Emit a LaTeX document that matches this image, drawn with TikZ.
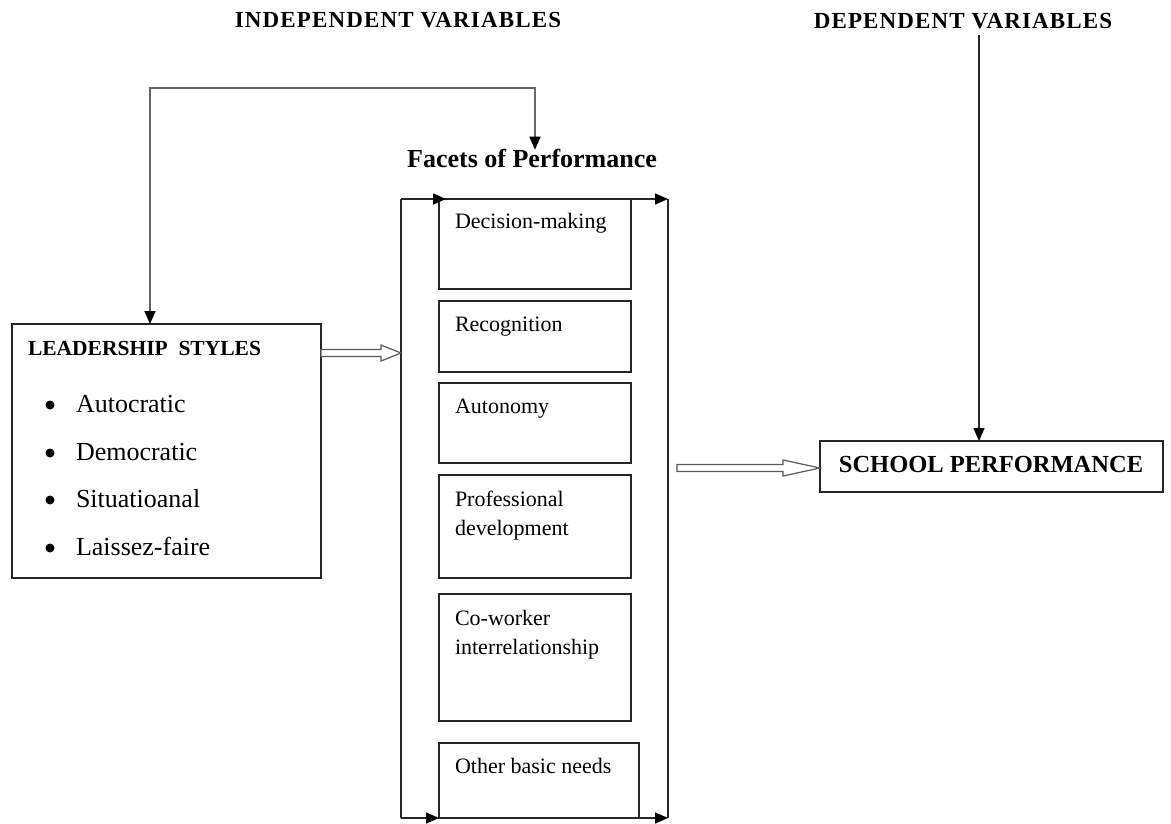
\documentclass[tikz,border=0pt]{standalone}
\usepackage{fontspec}
\setmainfont{Liberation Serif}
\usetikzlibrary{arrows.meta,calc}
\begin{document}
\begin{tikzpicture}[x=1pt,y=-1pt,
  every node/.style={inner sep=0pt,outer sep=0pt},
  boxst/.style={draw=black!85,line width=1.3pt,rectangle,anchor=north west},
  brk/.style={draw=black!85,line width=1.3pt},
  fb/.style={draw=black!60,line width=1.6pt},
  tp/.tip={Triangle[length=13pt,width=11pt,color=black]},
  tipst/.style={-tp},
  hollow/.style={draw=black!65,line width=1.2pt,fill=white},
  ttl/.style={font=\fontsize{23}{27}\selectfont\bfseries\addfontfeatures{LetterSpace=5},anchor=base},
  boxtxt/.style={font=\fontsize{22}{29.5}\selectfont,anchor=base west,align=left},
  item/.style={font=\fontsize{26}{30}\selectfont,anchor=base west},
  dot/.style={circle,fill=black,minimum size=9pt}
]
\useasboundingbox (0,0) rectangle (1171,823);

% titles
\node[ttl] (indep) at (398,27) {INDEPENDENT VARIABLES};
\node[ttl] (dep) at (963,28) {DEPENDENT VARIABLES};
\node[font=\fontsize{26}{30}\selectfont\bfseries,anchor=base] (facets) at (532,167) {Facets of Performance};

% leadership box
\node[boxst,minimum width=309pt,minimum height=254pt] (lead) at (12,324) {};
\node[font=\fontsize{21.5}{25}\selectfont\bfseries,anchor=base west] (lhead) at (28,355) {LEADERSHIP\ \ STYLES};
\node[dot] (b1) at (50,405) {};
\node[dot] (b2) at (50,453) {};
\node[dot] (b3) at (50,500) {};
\node[dot] (b4) at (50,548) {};
\node[item] (i1) at (76,412) {Autocratic};
\node[item] (i2) at (76,460) {Democratic};
\node[item] (i3) at (76,507) {Situatioanal};
\node[item] (i4) at (76,555) {Laissez-faire};

% facet boxes
\node[boxst,minimum width=192pt,minimum height=90pt] (dm) at (439,199) {};
\node[boxst,minimum width=192pt,minimum height=71pt] (rec) at (439,301) {};
\node[boxst,minimum width=192pt,minimum height=80pt] (aut) at (439,383) {};
\node[boxst,minimum width=192pt,minimum height=103pt] (pro) at (439,475) {};
\node[boxst,minimum width=192pt,minimum height=127pt] (cow) at (439,594) {};
\node[boxst,minimum width=200pt,minimum height=75pt] (oth) at (439,743) {};
\node[boxtxt] (tdm) at (455,228) {Decision-making};
\node[boxtxt] (trec) at (455,331) {Recognition};
\node[boxtxt] (taut) at (455,413) {Autonomy};
\node[boxtxt] (tpro) at (455,535.5) {Professional\\development};
\node[boxtxt] (tcow) at (455,654.5) {Co-worker\\interrelationship};
\node[boxtxt] (toth) at (455,773) {Other basic needs};

% school performance
\node[draw=black!85,line width=1.3pt,minimum width=343pt,minimum height=51pt,anchor=north west] (school) at (820,441) {};
\node[font=\fontsize{24.5}{28}\selectfont\bfseries,anchor=base] (tschool) at (991,472) {SCHOOL PERFORMANCE};

% bracket
\coordinate (lbT) at (401,199);
\coordinate (lbB) at (401,818);
\coordinate (rbT) at (668,199);
\coordinate (rbB) at (668,818);
\draw[brk] (lbT) -- (lbB);
\draw[brk] (rbT) -- (rbB);
\draw[brk,tipst] (lbT) -- ([xshift=7pt]dm.north west);
\draw[brk,tipst] (dm.north east) -- (rbT);
\draw[brk,tipst] (lbB) -- (oth.south west);
\draw[brk,tipst] (oth.south east) -- (rbB);

% feedback loop
\coordinate (fb1) at (150,88);
\coordinate (fb2) at (535,88);
\draw[fb,tp-tp] (lead.north -| fb1) -- (fb1) -- (fb2) -- ([yshift=-1pt]facets.north -| fb2);

% dependent arrow
\coordinate (dtop) at (979,35);
\draw[draw=black!85,line width=1.4pt,tipst] (dtop) -- (dtop |- school.north);

% hollow arrows
\coordinate (h1e) at (401,353);
\draw[hollow] let \p1=(lead.east |- h1e), \p2=(h1e) in
  (\x1,\y1+3.5pt) -- (\x2-20pt,\y1+3.5pt) -- (\x2-20pt,\y1+8pt) -- (\x2,\y1)
  -- (\x2-20pt,\y1-8pt) -- (\x2-20pt,\y1-3.5pt) -- (\x1,\y1-3.5pt) -- cycle;
\coordinate (h2s) at (677,468);
\draw[hollow] let \p1=(h2s), \p2=(school.west |- h2s) in
  (\x1,\y1+3.5pt) -- (\x2-37pt,\y1+3.5pt) -- (\x2-37pt,\y1+8pt) -- (\x2,\y1)
  -- (\x2-37pt,\y1-8pt) -- (\x2-37pt,\y1-3.5pt) -- (\x1,\y1-3.5pt) -- cycle;
\end{tikzpicture}
\end{document}
